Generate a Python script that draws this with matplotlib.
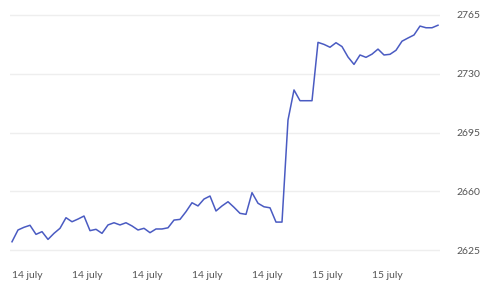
import matplotlib
matplotlib.use("Agg")
import matplotlib.pyplot as plt
import numpy as np

# price series (one point every ~6 px)
prices = [
    2630.1, 2637.1, 2638.7, 2639.9, 2634.5, 2636.1, 2631.5, 2635.1, 2638.1, 2644.4,
    2642.0, 2643.6, 2645.4, 2636.7, 2637.5, 2635.1, 2640.1, 2641.4, 2640.1, 2641.4,
    2639.5, 2637.1, 2638.1, 2635.5, 2637.7, 2637.7, 2638.4, 2643.0, 2643.4, 2648.0,
    2653.3, 2651.4, 2655.5, 2657.3, 2648.4, 2651.4, 2653.9, 2650.6, 2647.0, 2646.4,
    2659.3, 2653.0, 2650.9, 2650.3, 2641.8, 2641.8, 2702.5, 2720.4, 2714.0, 2714.0,
    2714.0, 2748.7, 2747.5, 2745.8, 2748.5, 2746.2, 2740.0, 2735.6, 2741.2, 2739.8,
    2741.7, 2744.7, 2741.2, 2741.6, 2744.0, 2749.4, 2751.3, 2753.1, 2758.4, 2757.4,
    2757.4, 2758.9,
]
x_ticks = [0, 10, 20, 30, 40, 50, 60]
x_labels = ["14 july", "14 july", "14 july", "14 july", "14 july", "15 july", "15 july"]
y_ticks = [2625, 2660, 2695, 2730, 2765]

plt.rcParams['font.family'] = ['Lato', 'DejaVu Sans']

W, H = 480, 284
fig = plt.figure(figsize=(W / 100, H / 100), dpi=100)
fig.patch.set_facecolor("white")

pad = 0.7
ax = fig.add_axes([10 / W, (H - 251.5) / H, 430 / W, (251.5 - 13.8) / H])
ax.plot(np.arange(len(prices)), prices, color="#4a5bc2", lw=1.1, solid_joinstyle="round")

ax.set_xlim(-1 / 3, len(prices) - 1 + 1 / 3)
ax.set_ylim(y_ticks[0] - pad, y_ticks[-1] + pad)

ax.set_yticks(y_ticks)
ax.yaxis.tick_right()
ax.tick_params(axis="y", length=0, pad=12, labelsize=7.5, labelcolor="#555555")
for lab in ax.get_yticklabels():
    lab.set_horizontalalignment("left")

ax.set_xticks(x_ticks)
ax.set_xticklabels(x_labels)
ax.tick_params(axis="x", length=0, pad=14, labelsize=7.5, labelcolor="#555555")
for lab in ax.get_xticklabels():
    lab.set_horizontalalignment("left")

ax.grid(axis="y", color="#eeeeee", lw=1.0)
ax.set_axisbelow(True)
for s in ax.spines.values():
    s.set_visible(False)

fig.savefig("out.png", dpi=100, facecolor="white")
